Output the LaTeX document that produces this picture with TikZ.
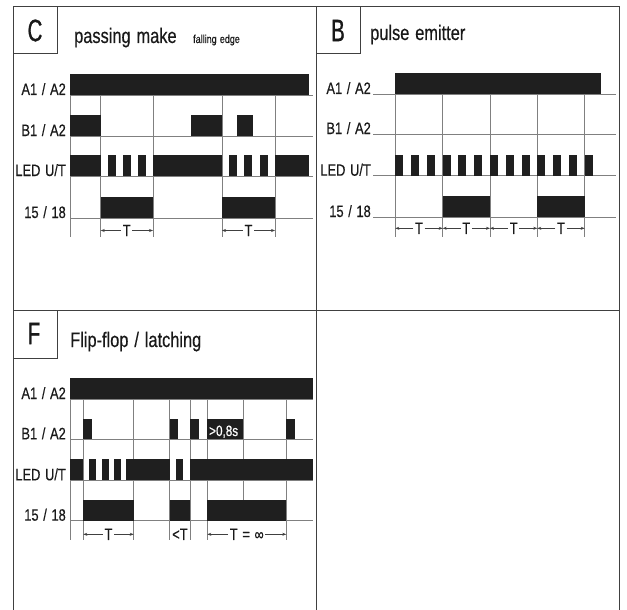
\documentclass[tikz,border=0pt]{standalone}
\usepackage{fontspec}
\setmainfont{Liberation Sans}[FakeStretch=0.78, WordSpace=1.3, FakeBold=0.4]
\newfontfamily\letterfont{Liberation Sans}[FakeStretch=0.66, FakeBold=0.8]
\usetikzlibrary{arrows.meta, positioning}

\begin{document}
\begin{tikzpicture}[
    x=1pt, y=-1pt,
    frame/.style={draw=black!75, line width=1pt},
    gline/.style={draw=black!50, line width=0.8pt},
    bar/.style={fill=black!88},
    sig/.style={anchor=base east, inner sep=0pt, font=\fontsize{16.5}{17}\selectfont, text=black!90},
    ttl/.style={anchor=base west, inner sep=0pt, font=\fontsize{21}{22}\selectfont, text=black!90},
    letter/.style={inner sep=0pt, font=\letterfont\fontsize{31}{32}\selectfont, text=black!90},
    tlab/.style={inner sep=1.5pt, font=\fontsize{16.5}{17}\selectfont, text=black!90},
    dim/.style={-{Stealth[length=4pt, width=3pt]}, draw=black!75, line width=0.6pt}
]
\useasboundingbox (0,0) rectangle (627,610);

% Frame
\draw[frame] (13,610) -- (13,7) -- (619,7) -- (619,610);
\draw[frame] (316,7) -- (316,610);
\draw[frame] (13,310) -- (619,310);
\draw[frame] (13,7) rectangle (57,54);
\draw[frame] (316,7) rectangle (360,54);
\draw[frame] (13,310) rectangle (57,358);

% Panel C: passing make
\node[letter] (lC) at (35,30.5) {C};
\node[ttl] (tC) at (74,43) {passing make};
\node[anchor=base west, inner sep=0pt, font=\fontsize{11.5}{12}\selectfont, text=black!90] (tCs) at (193,43) {falling edge};

\node[sig] (cA) at (66,95) {A1 / A2};
\node[sig] (cB) at (66,136) {B1 / A2};
\node[sig] (cL) at (66,176) {LED U/T};
\node[sig] (cQ) at (66,218) {15 / 18};

\draw[gline] (70,95) -- (313,95);
\draw[gline] (70,136) -- (313,136);
\draw[gline] (70,176) -- (313,176);
\draw[gline] (70,218) -- (313,218);
\draw[gline] (70,74) -- (70,237);
\draw[gline] (100.7,95) -- (100.7,237);
\draw[gline] (153,95) -- (153,237);
\draw[gline] (222,95) -- (222,237);
\draw[gline] (275,95) -- (275,237);

\fill[bar] (70,74) rectangle (309,95);
\fill[bar] (70,115) rectangle (100.7,136);
\fill[bar] (191,115) rectangle (222,136);
\fill[bar] (237,115) rectangle (253,136);
\fill[bar] (70,155) rectangle (100.7,176);
\fill[bar] (108,155) rectangle (116,176);
\fill[bar] (123,155) rectangle (131,176);
\fill[bar] (138,155) rectangle (146,176);
\fill[bar] (153,155) rectangle (222,176);
\fill[bar] (229,155) rectangle (237,176);
\fill[bar] (244,155) rectangle (252,176);
\fill[bar] (260,155) rectangle (268,176);
\fill[bar] (275,155) rectangle (309,176);
\fill[bar] (100.7,197) rectangle (153,218);
\fill[bar] (222,197) rectangle (275,218);

\node[tlab] (cT1) at (126.8,230.5) {T};
\node[tlab] (cT2) at (248.5,230.5) {T};
\draw[dim] (cT1.west) -- (100.7,230.5);
\draw[dim] (cT1.east) -- (153,230.5);
\draw[dim] (cT2.west) -- (222,230.5);
\draw[dim] (cT2.east) -- (275,230.5);

% Panel B: pulse emitter
\node[letter] (lB) at (338,30.5) {B};
\node[ttl] (tB) at (370,40) {pulse emitter};

\node[sig] (bA) at (371,94) {A1 / A2};
\node[sig] (bB) at (371,134) {B1 / A2};
\node[sig] (bL) at (371,175.7) {LED U/T};
\node[sig] (bQ) at (371,217) {15 / 18};

\draw[gline] (373,94) -- (616,94);
\draw[gline] (373,134) -- (616,134);
\draw[gline] (373,175.7) -- (616,175.7);
\draw[gline] (373,217) -- (616,217);
\draw[gline] (395.3,94) -- (395.3,237);
\draw[gline] (442.7,94) -- (442.7,237);
\draw[gline] (490,94) -- (490,237);
\draw[gline] (537.3,94) -- (537.3,237);
\draw[gline] (584.7,94) -- (584.7,237);

\fill[bar] (395.3,73) rectangle (601,94);
\foreach \k in {0,...,12}
  \fill[bar] ({395.3+15.78*\k},154.7) rectangle ({403.3+15.78*\k},175.7);
\fill[bar] (442.7,196) rectangle (490,217);
\fill[bar] (537.3,196) rectangle (584.7,217);

\node[tlab] (bT1) at (419,228.3) {T};
\node[tlab] (bT2) at (466.3,228.3) {T};
\node[tlab] (bT3) at (513.7,228.3) {T};
\node[tlab] (bT4) at (561,228.3) {T};
\draw[dim] (bT1.west) -- (395.3,228.3);
\draw[dim] (bT1.east) -- (442.7,228.3);
\draw[dim] (bT2.west) -- (442.7,228.3);
\draw[dim] (bT2.east) -- (490,228.3);
\draw[dim] (bT3.west) -- (490,228.3);
\draw[dim] (bT3.east) -- (537.3,228.3);
\draw[dim] (bT4.west) -- (537.3,228.3);
\draw[dim] (bT4.east) -- (584.7,228.3);

% Panel F: flip-flop / latching
\node[letter] (lF) at (34,333.5) {F};
\node[ttl] (tF) at (70,347) {Flip-flop / latching};

\node[sig] (fA) at (66,399) {A1 / A2};
\node[sig] (fB) at (66,439.3) {B1 / A2};
\node[sig] (fL) at (66,480.3) {LED U/T};
\node[sig] (fQ) at (66,520.7) {15 / 18};

\draw[gline] (70,399) -- (313,399);
\draw[gline] (70,439.3) -- (313,439.3);
\draw[gline] (70,480.3) -- (313,480.3);
\draw[gline] (70,520.7) -- (313,520.7);
\draw[gline] (70,378) -- (70,540);
\draw[gline] (83.3,399) -- (83.3,540);
\draw[gline] (133.7,399) -- (133.7,540);
\draw[gline] (169.7,399) -- (169.7,540);
\draw[gline] (190.3,399) -- (190.3,540);
\draw[gline] (207.3,399) -- (207.3,540);
\draw[gline] (243.3,399) -- (243.3,500);
\draw[gline] (286.3,399) -- (286.3,540);

\fill[bar] (70,378) rectangle (313,399);
\fill[bar] (83.3,419.3) rectangle (91.7,439.3);
\fill[bar] (169.7,419.3) rectangle (177.7,439.3);
\fill[bar] (190.3,419.3) rectangle (199,439.3);
\fill[bar] (207.3,419.3) rectangle (243.3,439.3);
\fill[bar] (286.3,419.3) rectangle (294.7,439.3);
\node[anchor=base west, inner sep=0pt, font=\fontsize{15}{15}\selectfont, text=white] (fS) at (209,436) {>0,8s};
\fill[bar] (70,459.3) rectangle (83.3,480.3);
\fill[bar] (89.3,459.3) rectangle (95.7,480.3);
\fill[bar] (102,459.3) rectangle (108.7,480.3);
\fill[bar] (114,459.3) rectangle (120.7,480.3);
\fill[bar] (126.3,459.3) rectangle (169.7,480.3);
\fill[bar] (176,459.3) rectangle (182.7,480.3);
\fill[bar] (190.3,459.3) rectangle (313,480.3);
\fill[bar] (83.3,500) rectangle (133.7,520.7);
\fill[bar] (169.7,500) rectangle (190.3,520.7);
\fill[bar] (207.3,500) rectangle (286.3,520.7);

\node[tlab] (fT1) at (108.5,534.3) {T};
\node[tlab, inner sep=0pt] (fT2) at (180,534.3) {<T};
\node[tlab] (fT3) at (246.8,534.3) {T = ∞};
\draw[dim] (fT1.west) -- (83.3,534.3);
\draw[dim] (fT1.east) -- (133.7,534.3);
\draw[dim] (fT3.west) -- (207.3,534.3);
\draw[dim] (fT3.east) -- (286.3,534.3);
\end{tikzpicture}
\end{document}
